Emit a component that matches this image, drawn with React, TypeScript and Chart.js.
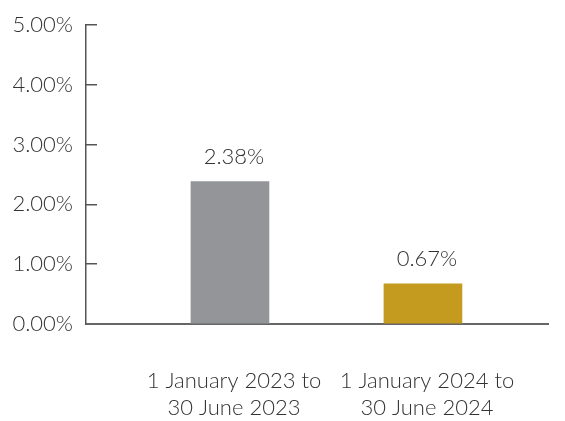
import React, { useEffect, useRef } from "react";
import { Chart, registerables } from "chart.js";

Chart.register(...registerables);

const categories: string[][] = [
  ["1 January 2023 to", "30 June 2023"],
  ["1 January 2024 to", "30 June 2024"],
];
const values: number[] = [2.38, 0.67];
const barColors: string[] = ["#939598", "#C49B1F"];
const yTicks: number[] = [0, 1, 2, 3, 4, 5];

const FONT = "Lato, Roboto, 'Liberation Sans', Arial, sans-serif";
const TEXT = "#333333";

const valueLabels = {
  id: "valueLabels",
  afterDatasetsDraw(chart: any) {
    const ctx = chart.ctx;
    const meta = chart.getDatasetMeta(0);
    ctx.save();
    ctx.font = `300 22px ${FONT}`;
    ctx.fillStyle = TEXT;
    ctx.textAlign = "center";
    ctx.textBaseline = "alphabetic";
    meta.data.forEach((bar: any, i: number) => {
      ctx.fillText(values[i].toFixed(2) + "%", bar.x + 4, bar.y - 18);
    });
    ctx.restore();
  },
};

export default function App() {
  const ref = useRef<HTMLCanvasElement | null>(null);
  useEffect(() => {
    document.body.style.margin = "0";
    const canvas = ref.current!;
    const chart = new Chart(canvas, {
      type: "bar",
      data: {
        datasets: [
          {
            data: values.map((v, i) => ({ x: i, y: v })),
            backgroundColor: barColors,
            barThickness: 78,
          },
        ],
      },
      options: {
        animation: false,
        responsive: false,
        maintainAspectRatio: false,
        layout: { padding: { top: 25, right: 17, left: 0, bottom: 0 } },
        plugins: { legend: { display: false }, tooltip: { enabled: false } },
        scales: {
          x: {
            type: "linear",
            offset: false,
            min: -0.746,
            max: 1.648,
            afterBuildTicks: (scale: any) => {
              scale.ticks = categories.map((_, i) => ({ value: i }));
            },
            afterFit: (scale: any) => {
              scale.height = 97;
              scale.paddingLeft = 0;
              scale.paddingRight = 0;
            },
            grid: { display: false, drawTicks: false, offset: false },
            border: { display: true, color: "#666666", width: 2 },
            ticks: {
              autoSkip: false,
              maxRotation: 0,
              padding: 43,
              labelOffset: 4,
              color: TEXT,
              font: { family: FONT, size: 22, weight: "300", lineHeight: 1.23 },
              callback: (v: any) => categories[v as number] ?? "",
            },
          },
          y: {
            min: 0,
            max: 5,
            afterBuildTicks: (scale: any) => {
              scale.ticks = yTicks.map((v) => ({ value: v }));
            },
            afterFit: (scale: any) => {
              scale.width = 86;
              scale.paddingTop = 0;
              scale.paddingBottom = 0;
            },
            grid: {
              drawOnChartArea: false,
              drawTicks: true,
              tickLength: -11,
              color: "#555555",
              lineWidth: 1.5,
            },
            border: { display: true, color: "#555555", width: 1.5 },
            ticks: {
              padding: 24,
              color: TEXT,
              font: { family: FONT, size: 22, weight: "300" },
              callback: (v: any) => Number(v).toFixed(2) + "%",
            },
          },
        },
      },
      plugins: [valueLabels],
    });
    return () => chart.destroy();
  }, []);
  return (
    <div style={{ width: 565, height: 421, background: "#ffffff" }}>
      <canvas ref={ref} width={565} height={421} />
    </div>
  );
}
